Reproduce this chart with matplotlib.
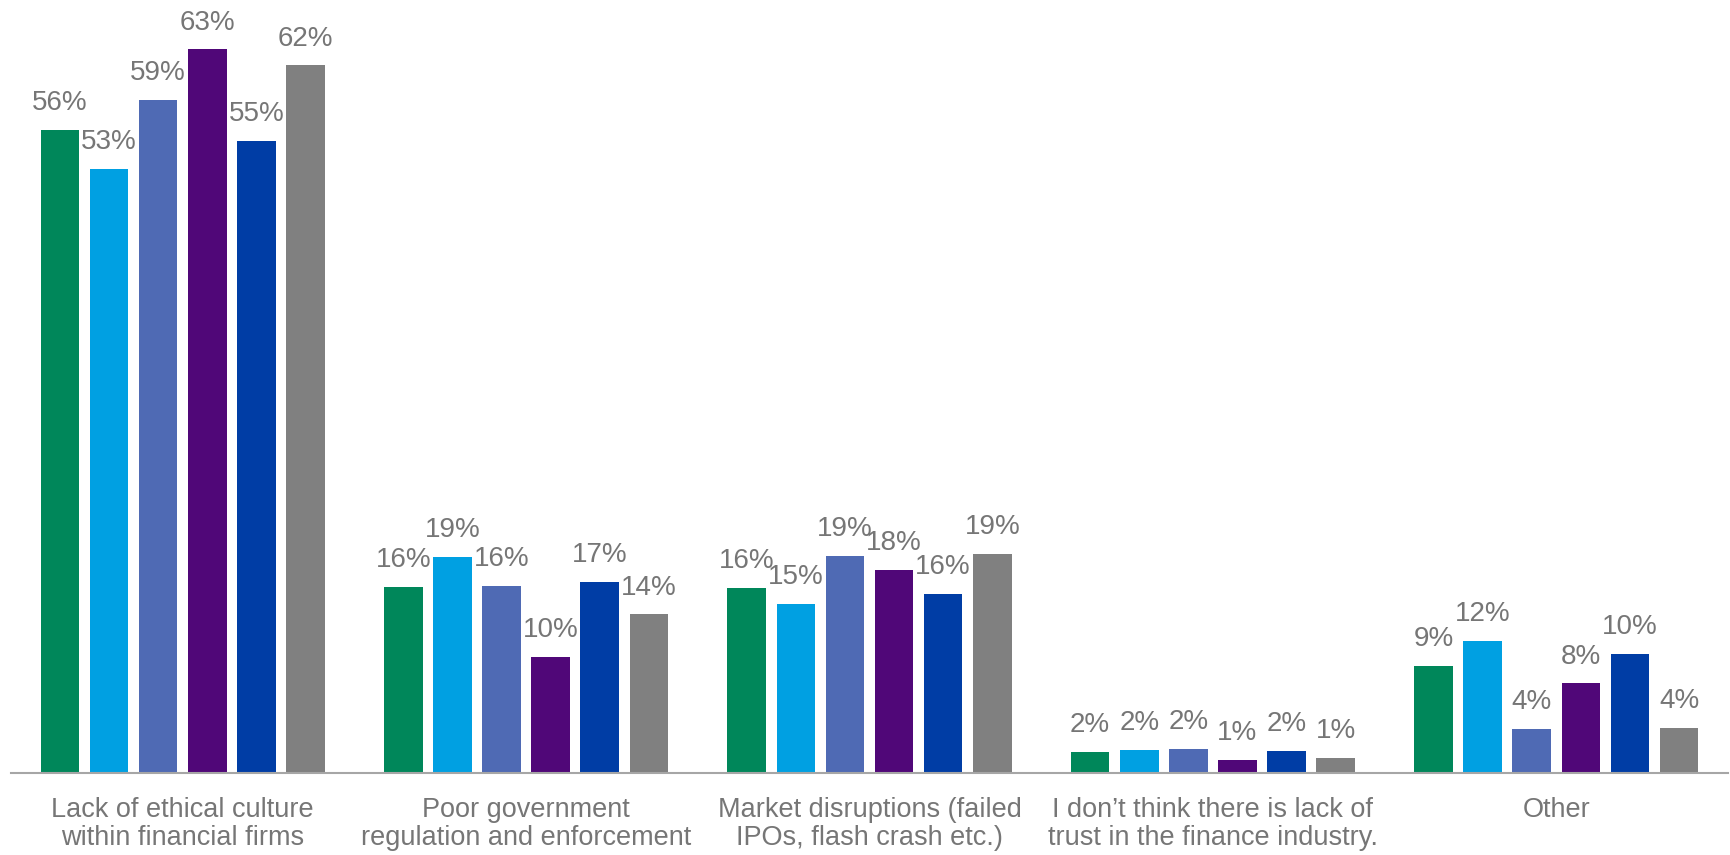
#!/usr/bin/env python3

import numpy as np
import matplotlib
matplotlib.use('Agg')
import matplotlib.pyplot as plt

plt.rcParams['font.family'] = ['Liberation Sans', 'DejaVu Sans']

categories = ['Lack of ethical culture\nwithin financial firms',
              'Poor government\nregulation and enforcement',
              'Market disruptions (failed\nIPOs, flash crash etc.)',
              'I don\u2019t think there is lack of\ntrust in the finance industry.',
              'Other']

# bar heights (%), one list per series
s1 = [56.0, 16.2, 16.1, 1.8, 9.3]
s2 = [52.6, 18.8, 14.7, 2.0, 11.5]
s3 = [58.6, 16.3, 18.9, 2.1, 3.8]
s4 = [63.0, 10.1, 17.7, 1.1, 7.8]
s5 = [55.0, 16.6, 15.6, 1.9, 10.4]
s6 = [61.6, 13.8, 19.1, 1.3, 3.9]

# printed labels
l1 = [56, 16, 16, 2, 9]
l2 = [53, 19, 15, 2, 12]
l3 = [59, 16, 19, 2, 4]
l4 = [63, 10, 18, 1, 8]
l5 = [55, 17, 16, 2, 10]
l6 = [62, 14, 19, 1, 4]

series = [s1, s2, s3, s4, s5, s6]
labels = [l1, l2, l3, l4, l5, l6]
colors = ['#00875A', '#00A0E2', '#4F6AB4', '#500778', '#003DA5', '#808080']

fig = plt.figure(figsize=(17.31, 8.55), dpi=100)
ax = fig.add_axes([11/1731, 82/855, 1717/1731, 773/855])

x = np.arange(len(categories))
pitch = 0.143
width = 0.1125
txt = '#767676'
for i, (vals, labs) in enumerate(zip(series, labels)):
    pos = x + (i - 2.5)*pitch
    ax.bar(pos, vals, width, color=colors[i], edgecolor='none')
    for p, v, l in zip(pos, vals, labs):
        ax.annotate('%d%%' % l, (p, v), xytext=(0, 10), textcoords='offset points',
                    ha='center', va='bottom', fontsize=20, color=txt)

ax.set_xlim(-0.5, len(categories)-0.5)
ax.set_ylim(0, 67.3)
ax.set_yticks([])
ax.set_xticks(x)
ax.set_xticklabels(categories, fontsize=19.5, color=txt, linespacing=1.12)
ax.tick_params(axis='x', length=0, pad=17)
for s in ['top', 'right', 'left']:
    ax.spines[s].set_visible(False)
ax.spines['bottom'].set_color('#A6A6A6')
ax.spines['bottom'].set_linewidth(1.5)

fig.savefig('out.png', dpi=100)
